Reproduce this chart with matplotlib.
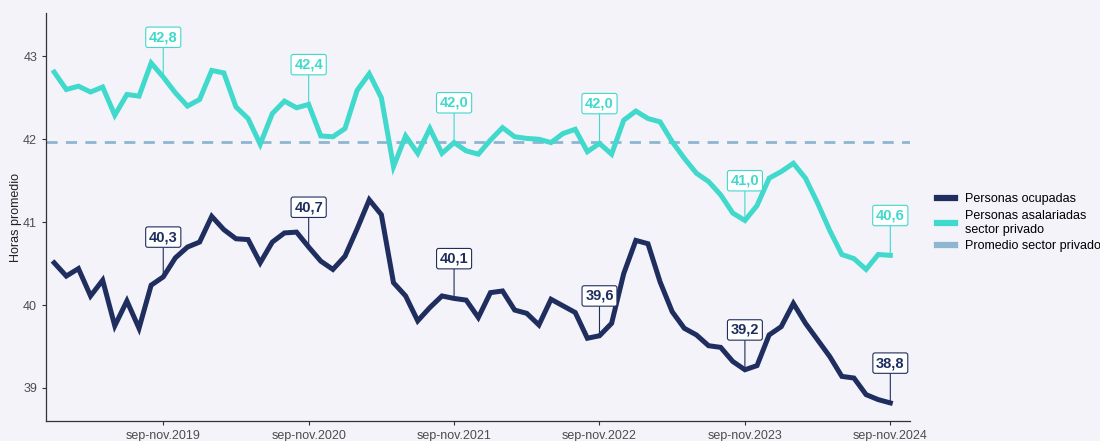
import numpy as np
import matplotlib
matplotlib.use("Agg")
import matplotlib.pyplot as plt
from matplotlib.lines import Line2D

plt.rcParams['font.family'] = ['Liberation Sans', 'DejaVu Sans']

# trimestres móviles dic-feb 2019 ... sep-nov 2024 (70 periodos)
tick_labels = ["sep-nov.2019", "sep-nov.2020", "sep-nov.2021",
               "sep-nov.2022", "sep-nov.2023", "sep-nov.2024"]
tick_idx = [9, 21, 33, 45, 57, 69]

ocupadas = [40.51, 40.35, 40.44, 40.11, 40.30, 39.75, 40.05, 39.72, 40.24, 40.34,
            40.57, 40.70, 40.76, 41.07, 40.91, 40.80, 40.79, 40.51, 40.76, 40.87,
            40.88, 40.70, 40.53, 40.43, 40.59, 40.92, 41.27, 41.09, 40.27, 40.11,
            39.81, 39.97, 40.11, 40.08, 40.06, 39.85, 40.15, 40.17, 39.94, 39.90,
            39.76, 40.07, 39.99, 39.91, 39.60, 39.63, 39.78, 40.38, 40.78, 40.74,
            40.28, 39.92, 39.72, 39.64, 39.51, 39.49, 39.32, 39.22, 39.27, 39.64,
            39.74, 40.02, 39.78, 39.58, 39.38, 39.14, 39.12, 38.92, 38.86, 38.82]

asalariadas = [42.81, 42.60, 42.64, 42.57, 42.63, 42.29, 42.54, 42.52, 42.92, 42.75,
               42.56, 42.40, 42.48, 42.83, 42.80, 42.39, 42.25, 41.94, 42.31, 42.46,
               42.38, 42.42, 42.04, 42.03, 42.13, 42.59, 42.79, 42.50, 41.67, 42.04,
               41.83, 42.13, 41.83, 41.96, 41.86, 41.82, 41.99, 42.14, 42.03, 42.01,
               42.00, 41.96, 42.07, 42.12, 41.85, 41.95, 41.82, 42.23, 42.34, 42.25,
               42.21, 41.97, 41.77, 41.59, 41.49, 41.33, 41.11, 41.02, 41.20, 41.53,
               41.61, 41.71, 41.53, 41.23, 40.90, 40.61, 40.56, 40.43, 40.61, 40.60]

promedio_privado = 41.97

lbl_ocupadas = ["40,3", "40,7", "40,1", "39,6", "39,2", "38,8"]
lbl_asalariadas = ["42,8", "42,4", "42,0", "42,0", "41,0", "40,6"]

c_ocu = "#1f2e5e"
c_asa = "#40d9cc"
c_prom = "#8fb6d0"
bg = "#f3f3f9"

x = np.arange(len(ocupadas))

fig = plt.figure(figsize=(11, 4.41), dpi=100, facecolor=bg)
ax = fig.add_axes([0.042, 0.045, 0.785, 0.925], facecolor=bg)

ax.axhline(promedio_privado, color=c_prom, lw=2, ls=(0, (4, 3)), zorder=1)
ax.plot(x, asalariadas, color=c_asa, lw=3.6, solid_joinstyle="miter", zorder=2)
ax.plot(x, ocupadas, color=c_ocu, lw=3.6, solid_joinstyle="miter", zorder=3)

for serie, labels, col in [(ocupadas, lbl_ocupadas, c_ocu),
                           (asalariadas, lbl_asalariadas, c_asa)]:
    for i, t in zip(tick_idx, labels):
        ax.annotate(t, xy=(i, serie[i]), xytext=(i, serie[i] + 0.48),
                    ha="center", va="center", fontsize=10.5, fontweight="bold",
                    color=col, zorder=5,
                    bbox=dict(boxstyle="round,pad=0.22,rounding_size=0.15",
                              fc="white", ec=col, lw=0.8),
                    arrowprops=dict(arrowstyle="-", color=col, lw=0.8,
                                    shrinkA=0, shrinkB=0))

ax.set_xlim(-0.66, 70.6)
ax.set_ylim(38.6, 43.52)
ax.set_xticks(tick_idx)
ax.set_xticklabels(tick_labels)
ax.set_yticks([39, 40, 41, 42, 43])
ax.tick_params(axis="both", labelsize=9, labelcolor="#4d4d4d", color="#333333",
               length=3, width=0.8)
ax.set_ylabel("Horas promedio", fontsize=9, color="#222222", labelpad=1)
for s in ["top", "right"]:
    ax.spines[s].set_visible(False)
for s in ["left", "bottom"]:
    ax.spines[s].set_color("#333333")
    ax.spines[s].set_linewidth(0.9)

handles = [Line2D([], [], color=c_ocu, lw=4.5),
           Line2D([], [], color=c_asa, lw=4.5),
           Line2D([], [], color=c_prom, lw=4.5)]
fig.legend(handles, ["Personas ocupadas", "Personas asalariadas\nsector privado",
                     "Promedio sector privado"],
           loc="center left", bbox_to_anchor=(0.842, 0.495), frameon=False,
           fontsize=9, handlelength=1.4, handletextpad=0.8, labelspacing=0.35)

fig.savefig("out.png", dpi=100, facecolor=bg)
